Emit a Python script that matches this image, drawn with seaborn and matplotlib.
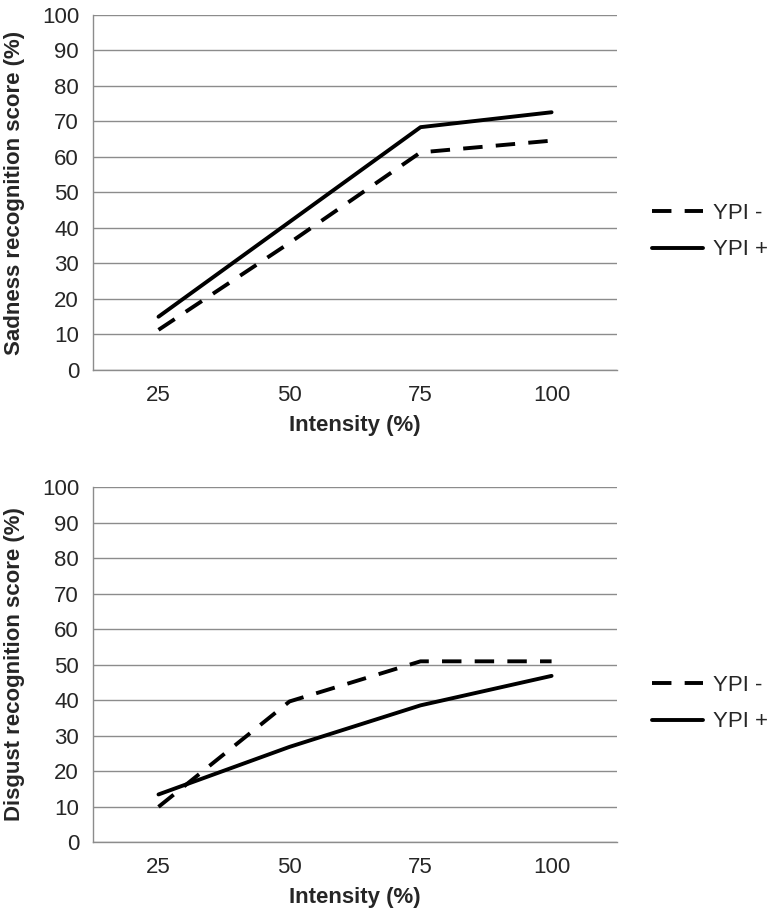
import matplotlib
matplotlib.use('Agg')
import matplotlib.pyplot as plt
import matplotlib.ticker as ticker
import seaborn as sns
import pandas as pd

# valores
intensidades = [25, 50, 75, 100]
tristeza_ypi_menos = [11.3, 35.8, 61.3, 64.6]
tristeza_ypi_mais = [15.0, 41.7, 68.4, 72.6]
nojo_ypi_menos = [9.9, 39.6, 50.9, 50.9]
nojo_ypi_mais = [13.4, 26.8, 38.5, 46.8]
grupos = ['YPI -', 'YPI +']
ticks_y = list(range(0, 101, 10))

FONTE = 16
LW = 2.8


def monta_df(menos, mais):
    return pd.DataFrame({
        'INTENSIDADE': intensidades * 2,
        'SCORE': menos + mais,
        'GRUPO': [grupos[0]] * len(menos) + [grupos[1]] * len(mais),
    })


def desenha(ax, df, ylabel):
    sns.lineplot(
        data=df, x='INTENSIDADE', y='SCORE',
        hue='GRUPO', style='GRUPO',
        hue_order=grupos, style_order=grupos,
        palette=['black', 'black'],
        dashes={'YPI -': (5, 3.4), 'YPI +': ''},
        linewidth=LW, ax=ax,
    )
    ax.set_xlim(12.5, 112.5)
    ax.set_ylim(0, 100)
    ax.set_yticks(ticks_y)
    ax.set_xticks(intensidades)
    ax.xaxis.set_minor_locator(ticker.FixedLocator([12.5, 37.5, 62.5, 87.5, 112.5]))
    ax.tick_params(axis='x', which='major', length=0, pad=11, labelsize=FONTE)
    ax.tick_params(axis='x', which='minor', length=5, color='#8c8c8c', width=1)
    ax.tick_params(axis='y', length=5, color='#8c8c8c', width=1, labelsize=FONTE, pad=5)
    ax.grid(axis='y', color='#8c8c8c', linewidth=1)
    ax.grid(axis='x', visible=False)
    for s in ['top', 'right']:
        ax.spines[s].set_visible(False)
    for s in ['left', 'bottom']:
        ax.spines[s].set_color('#8c8c8c')
        ax.spines[s].set_linewidth(1)
    ax.set_xlabel('Intensity (%)', fontsize=FONTE, fontweight='bold', labelpad=6)
    ax.set_ylabel(ylabel, fontsize=FONTE, fontweight='bold', labelpad=12)
    ax.set_axisbelow(True)
    leg = ax.legend(loc='center left', bbox_to_anchor=(1.05, 0.39), frameon=False,
                    fontsize=FONTE, handlelength=2.3, handletextpad=0.45,
                    labelspacing=0.7, borderaxespad=0)
    for h in leg.get_lines():
        h.set_linewidth(LW)


sns.set_style('white')
plt.rcParams['font.family'] = ['Liberation Sans', 'DejaVu Sans']

fig = plt.figure(figsize=(7.73, 9.09), dpi=100)
ax1 = fig.add_axes([0.1203, 0.593, 0.678, 0.3905])
ax2 = fig.add_axes([0.1203, 0.0737, 0.678, 0.3905])

desenha(ax1, monta_df(tristeza_ypi_menos, tristeza_ypi_mais), 'Sadness recognition score (%)')
desenha(ax2, monta_df(nojo_ypi_menos, nojo_ypi_mais), 'Disgust recognition score (%)')

fig.savefig('out.png', dpi=100, facecolor='white')
plt.close()
